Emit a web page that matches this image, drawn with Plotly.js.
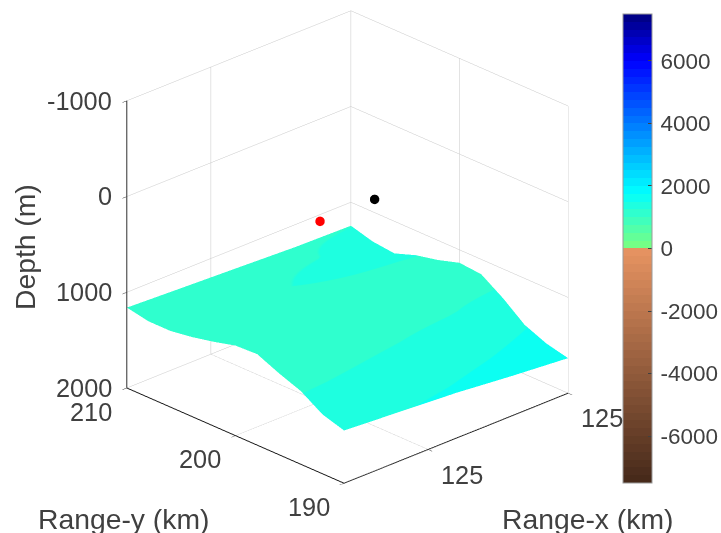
<!DOCTYPE html>
<html><head><meta charset="utf-8">
<script src="https://cdn.plot.ly/plotly-3.0.1.min.js"></script>
<style>html,body{margin:0;padding:0;background:#fff}#g{width:721px;height:533px}</style>
</head><body><div id="g"></div>
<script>
const rangeX=[124.7,124.9,125.1,125.3,125.5];
const rangeY=[190,192,194,196,198,200,202,204,206,208,210];
const depth=[
[1450,1488,1527,1585,1634],
[1380,1405,1440,1497,1580],
[1235,1265,1300,1390,1485],
[1150,1180,1210,1235,1305],
[1050,1100,1150,1180,1155],
[1060,1100,1140,1160,1135],
[1120,1140,1170,1210,1205],
[1170,1190,1210,1235,1255],
[1205,1215,1240,1290,1335],
[1205,1210,1230,1245,1310],
[1160,1185,1209,1234,1245]];
const redPoint={x:[124.955],y:[198.8],z:[0]};
const blackPoint={x:[125.15],y:[198.8],z:[0]};
const xTicks=[125,125.5], xLabels=['125','125'];
const yTicks=[190,200,210], yLabels=['190','200','210'];
const zTicks=[-1000,0,1000,2000], zLabels=['-1000','0','1000','2000'];
const cTicks=[-6000,-4000,-2000,0,2000,4000,6000], cLabels=['-6000','-4000','-2000','0','2000','4000','6000'];
const cMin=-7500,cMax=7500,bandWidth=250;
const surfMin=1000,surfMax=1750;
const oceanStops=[[0,125,255,125],[1800,0,255,255],[6000,0,0,255],[7500,0,0,125]];
const landStops=[[-7500,68,40,25],[0,232,148,98]];
function col(stops,v){for(let i=0;i<stops.length-1;i++){const a=stops[i],b=stops[i+1];
 if(v<=b[0]){const t=(v-a[0])/(b[0]-a[0]);return 'rgb('+[1,2,3].map(k=>Math.round(a[k]+t*(b[k]-a[k]))).join(',')+')';}}
 const l=stops[stops.length-1];return 'rgb('+l[1]+','+l[2]+','+l[3]+')';}
function bands(lo,hi){const cs=[];
 for(let v=lo;v<hi;v+=bandWidth){const c=v<0?col(landStops,v+bandWidth/2):col(oceanStops,v+bandWidth/2);
  cs.push([(v-lo)/(hi-lo),c]);cs.push([(v+bandWidth-lo)/(hi-lo),c]);}
 return cs;}
const ink='#404040', fontF='"Liberation Sans",Arial,sans-serif', fsBar=22.5, fsAx=25.3, fsT=28.3;
const surf={type:'surface',x:rangeX,y:rangeY,z:depth,surfacecolor:depth,cmin:surfMin,cmax:surfMax,colorscale:bands(surfMin,surfMax),showscale:false,
 lighting:{ambient:1,diffuse:0,specular:0,roughness:1,fresnel:0},hoverinfo:'skip'};
const scaleHolder={type:'scatter3d',mode:'markers',x:[rangeX[2]],y:[rangeY[5]],z:[depth[5][2]],hoverinfo:'skip',showlegend:false,
 marker:{size:1,opacity:0,color:[depth[5][2]],cmin:cMin,cmax:cMax,colorscale:bands(cMin,cMax),showscale:true,
 colorbar:{thickness:29,thicknessmode:'pixels',len:469,lenmode:'pixels',x:623/721,xanchor:'left',xpad:0,ypad:0,
  y:1-14/533,yanchor:'top',tickvals:cTicks,ticktext:cLabels,ticks:'inside',ticklen:4,tickcolor:'#404040',
  tickfont:{family:fontF,size:fsBar,color:ink},outlinecolor:'#9a9a9a',outlinewidth:1,borderwidth:0}}};
const red={type:'scatter3d',mode:'markers',...redPoint,marker:{color:'#ff0000',size:5.5,line:{width:0}},showlegend:false,hoverinfo:'skip'};
const black={type:'scatter3d',mode:'markers',...blackPoint,marker:{color:'#000000',size:5.5,line:{width:0}},showlegend:false,hoverinfo:'skip'};
const ax=(tv,range)=>({range:range,tickvals:tv,ticktext:tv.map(()=>''),showticklabels:false,title:{text:''},showbackground:false,
 showgrid:true,gridcolor:'#c8c8c8',gridwidth:1,zeroline:false,showspikes:false,showline:true,linecolor:'#111111',linewidth:2,
 ticks:'outside',ticklen:6,tickcolor:'#303030',tickwidth:1});
const sa=[];
const lab=(x,y,z,text,xs,ys,anchor)=>sa.push({x,y,z,text,showarrow:false,xshift:xs,yshift:ys,xanchor:anchor||'center',yanchor:'middle',font:{family:fontF,size:fsAx,color:ink}});
const xEdge=124.702;
xTicks.forEach((v,i)=>lab(v,190,2000,xLabels[i],34,-25));
yTicks.forEach((v,i)=>lab(xEdge,v,2000,yLabels[i],-36,-24));
zTicks.forEach((v,i)=>lab(xEdge,210,v,zLabels[i],-13,0,'right'));
const title=(px,py,text,angle)=>({xref:'paper',yref:'paper',x:px/721,y:1-py/533,text,showarrow:false,textangle:angle||0,xanchor:'center',yanchor:'middle',font:{family:fontF,size:fsT,color:ink}});
const layout={width:721,height:533,margin:{l:0,r:0,t:0,b:0},paper_bgcolor:'#fff',showlegend:false,
 scene:{domain:{x:[0,0.964],y:[0.073,1]},aspectmode:'manual',aspectratio:{x:1.256,y:1.272,z:1.281},
  camera:{projection:{type:'orthographic'},up:{x:0,y:0,z:1},center:{x:0,y:0,z:0},eye:{x:-1.256,y:-1.312,z:0.84}},
  xaxis:ax(xTicks,[124.7,125.5]),yaxis:ax(yTicks,[190,210]),zaxis:ax(zTicks,[2000,-1000]),annotations:sa},
 annotations:[title(25,247,'Depth (m)',-90),title(123,519,'Range-y (km)'),title(587,519,'Range-x (km)')]};
Plotly.newPlot('g',[surf,scaleHolder,red,black],layout,{displayModeBar:false}).then(gd=>{
 gd.querySelectorAll('.colorbar .cbaxis text').forEach(t=>t.setAttribute('x',parseFloat(t.getAttribute('x')||0)+3));
});
</script></body></html>
